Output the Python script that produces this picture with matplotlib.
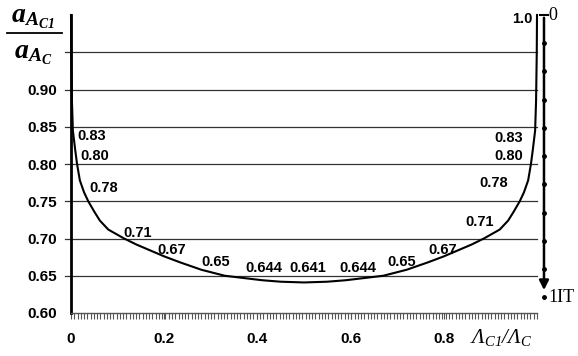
import numpy as np
import matplotlib
matplotlib.use("Agg")
import matplotlib.pyplot as plt

plt.rcParams['mathtext.fontset'] = 'custom'
plt.rcParams['mathtext.it'] = 'Liberation Serif:italic'
plt.rcParams['mathtext.bf'] = 'Liberation Serif:italic:bold'
plt.rcParams['mathtext.rm'] = 'Liberation Serif:italic'

# curve
curve_x = [0.0, 0.0005, 0.002, 0.004, 0.009, 0.013, 0.019, 0.028, 0.037, 0.05, 0.062,
           0.08, 0.114, 0.14, 0.17, 0.2, 0.234, 0.28, 0.33, 0.37, 0.41, 0.45, 0.5,
           0.55, 0.59, 0.63, 0.67, 0.72, 0.766, 0.8, 0.83, 0.86, 0.886, 0.92, 0.938,
           0.95, 0.963, 0.972, 0.981, 0.987, 0.991, 0.996, 0.998, 0.9995, 1.0]
curve_y = [1.0, 0.95, 0.885, 0.845, 0.819, 0.80, 0.778, 0.762, 0.75, 0.736, 0.724,
           0.712, 0.70, 0.692, 0.684, 0.676, 0.668, 0.658, 0.65, 0.647, 0.644, 0.642, 0.641,
           0.642, 0.644, 0.647, 0.65, 0.658, 0.668, 0.676, 0.684, 0.692, 0.70, 0.712, 0.724,
           0.736, 0.75, 0.762, 0.778, 0.80, 0.819, 0.845, 0.885, 0.95, 1.0]

label_text = ['1.0', '0.83', '0.80', '0.78', '0.71', '0.67', '0.65', '0.644', '0.641',
              '0.644', '0.65', '0.67', '0.71', '0.78', '0.80', '0.83']
label_x = [0.968, 0.045, 0.052, 0.071, 0.142, 0.215, 0.31, 0.413, 0.508,
           0.615, 0.71, 0.798, 0.877, 0.908, 0.94, 0.94]
label_y = [0.994, 0.837, 0.811, 0.768, 0.707, 0.684, 0.668, 0.660, 0.660,
           0.660, 0.668, 0.684, 0.722, 0.774, 0.811, 0.835]

yticks = [0.60, 0.65, 0.70, 0.75, 0.80, 0.85, 0.90, 0.95, 1.0]
ytick_labels = ['0.60', '0.65', '0.70', '0.75', '0.80', '0.85', '0.90', '', '']
xticks = [0, 0.2, 0.4, 0.6, 0.8]
xtick_labels = ['0', '0.2', '0.4', '0.6', '0.8']

arrow_x = 1.015
arrow_top = 1.0
arrow_bottom = 0.621
arrow_steps = 10

fig = plt.figure(figsize=(5.78, 3.56), dpi=100)
ax = fig.add_axes([71/578, 43/356, 466/578, 298/356])

for s in ['top', 'right']:
    ax.spines[s].set_visible(False)
ax.spines['left'].set_linewidth(2.0)
ax.spines['left'].set_color('black')
ax.spines['bottom'].set_linewidth(1.0)
ax.spines['bottom'].set_color('#555555')

ax.set_yticks(yticks)
ax.set_yticklabels(ytick_labels, fontfamily='Liberation Sans', fontweight='bold', fontsize=11)
ax.tick_params(axis='y', length=0, pad=10)
ax.set_xticks(xticks)
ax.set_xticklabels(xtick_labels, fontfamily='Liberation Sans', fontweight='bold', fontsize=11)
ax.set_xticks(np.linspace(-0.014, 1.0, 146), minor=True)
ax.tick_params(axis='x', which='major', length=4, color='#555555', pad=10)
ax.tick_params(axis='x', which='minor', length=4, color='#555555', width=0.8)
ax.set_xlim(0, 1.0)
ax.set_ylim(0.60, 1.0)

for gy in yticks[1:-1]:
    ax.plot([-0.012, 1.0], [gy, gy], color='#333333', lw=0.9, clip_on=False, zorder=1)

ax.plot(curve_x, curve_y, color='black', lw=1.5, zorder=3, clip_on=False)

for t, x, y in zip(label_text, label_x, label_y):
    ax.text(x, y, t, ha='center', va='center', fontfamily='Liberation Sans',
            fontweight='bold', fontsize=10.5, zorder=4)

# vertical arrow on the right
ax.annotate('', xy=(arrow_x, arrow_bottom + 0.006), xytext=(arrow_x, arrow_top),
            arrowprops=dict(arrowstyle='-|>', color='black', lw=1.8, mutation_scale=14),
            annotation_clip=False)
ax.plot([arrow_x - 0.008, arrow_x + 0.008], [arrow_top, arrow_top], color='black', lw=1.5,
        clip_on=False)
dots = np.linspace(arrow_top, arrow_bottom, arrow_steps + 1)[1:]
ax.plot([arrow_x] * len(dots), dots, 'o', color='black', ms=2.5, clip_on=False)
ax.text(arrow_x + 0.01, arrow_top, '0', ha='left', va='center', fontfamily='Liberation Serif',
        fontsize=13)
ax.text(arrow_x + 0.01, arrow_bottom, '1IT', ha='left', va='center', fontfamily='Liberation Serif',
        fontsize=13)

# x label
fig.text(501/578, 1 - 337/356, r'$\Lambda_{C1}/\Lambda_{C}$',
         ha='center', va='center', fontsize=15)

# y label as fraction
fig.text(33/578, 1 - 17/356, r'$\mathbf{a}_{\mathbf{A}_{\mathbf{C1}}}$', ha='center', va='center',
         fontsize=20)
fig.add_artist(plt.Line2D([7/578, 62/578], [1 - 33/356, 1 - 33/356], color='black', lw=1.3))
fig.text(33/578, 1 - 53/356, r'$\mathbf{a}_{\mathbf{A}_{\mathbf{C}}}$', ha='center', va='center',
         fontsize=20)

fig.savefig('out.png', dpi=100)
